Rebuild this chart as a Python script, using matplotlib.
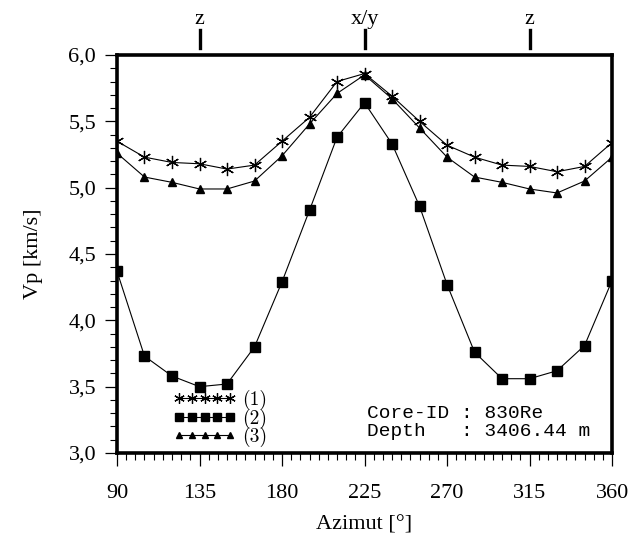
import numpy as np
import matplotlib
matplotlib.use("Agg")
import matplotlib.pyplot as plt
from matplotlib.ticker import MultipleLocator, FixedLocator, FixedFormatter

# Data
azimut = [90, 105, 120, 135, 150, 165, 180, 195, 210, 225,
          240, 255, 270, 285, 300, 315, 330, 345, 360]
vp_1 = [5.35, 5.23, 5.19, 5.18, 5.14, 5.17, 5.35, 5.53, 5.80, 5.86,
        5.69, 5.50, 5.32, 5.23, 5.17, 5.16, 5.12, 5.16, 5.34]
vp_2 = [4.37, 3.73, 3.58, 3.50, 3.52, 3.80, 4.29, 4.83, 5.38, 5.64,
        5.33, 4.86, 4.27, 3.76, 3.56, 3.56, 3.62, 3.81, 4.30]
vp_3 = [5.26, 5.08, 5.04, 4.99, 4.99, 5.05, 5.24, 5.48, 5.71, 5.85,
        5.67, 5.45, 5.23, 5.08, 5.04, 4.99, 4.96, 5.05, 5.23]
series_labels = ["(1)", "(2)", "(3)"]

x_ticks = [90, 135, 180, 225, 270, 315, 360]
y_ticks = [3.0, 3.5, 4.0, 4.5, 5.0, 5.5, 6.0]
y_ticklabels = ["3,0", "3,5", "4,0", "4,5", "5,0", "5,5", "6,0"]

axis_ticks = [135, 225, 315]
axis_labels = ["z", "x/y", "z"]

core_id = "830Re"
depth = "3406.44"

serif = "Liberation Serif"
mono = "Liberation Mono"

fig = plt.figure(figsize=(6.31, 5.38), dpi=100)
ax = fig.add_axes([0.1854, 0.158, 0.7846, 0.7398])

# Curves
ax.plot(azimut, vp_1, color="black", lw=0.8, marker=(6, 2, 0), ms=9.5,
        mew=0.9, label=series_labels[0])
ax.plot(azimut, vp_2, color="black", lw=0.8, marker="s", ms=6.5,
        label=series_labels[1])
ax.plot(azimut, vp_3, color="black", lw=0.8, marker="^", ms=6,
        label=series_labels[2])

ax.set_xlim(90, 360)
ax.set_ylim(3.0, 6.0)

# Axes frame and ticks
for s in ax.spines.values():
    s.set_linewidth(2.6)
ax.xaxis.set_major_locator(FixedLocator(x_ticks))
ax.xaxis.set_minor_locator(MultipleLocator(5))
ax.yaxis.set_major_locator(FixedLocator(y_ticks))
ax.yaxis.set_major_formatter(FixedFormatter(y_ticklabels))
ax.yaxis.set_minor_locator(MultipleLocator(0.1))
ax.tick_params(which="major", direction="out", length=9, width=0.9,
               labelsize=16, pad=13)
ax.tick_params(axis="y", which="major", pad=6)
ax.tick_params(which="minor", direction="out", length=5, width=0.8)
for lab in ax.get_xticklabels() + ax.get_yticklabels():
    lab.set_fontfamily(serif)

ax.set_xlabel("Azimut [°]", fontsize=16, family=serif, labelpad=9)
ax.set_ylabel("Vp [km/s]", fontsize=16, family=serif, labelpad=18)

# Direction marks above the frame
trans = ax.get_xaxis_transform()
for xv, lab in zip(axis_ticks, axis_labels):
    ax.plot([xv, xv], [1.018, 1.062], color="black", lw=2.4,
            transform=trans, clip_on=False)
    ax.text(xv, 1.09, lab, transform=trans, ha="center", va="center",
            fontsize=16, family=serif)

# Legend
ax.legend(loc="lower left", bbox_to_anchor=(0.11, 0.01), frameon=False,
          numpoints=5, handlelength=3.2, handletextpad=0.35,
          labelspacing=-0.08, borderpad=0.1, borderaxespad=0.0,
          markerscale=0.8, prop={"family": "cmr10", "size": 14})

# Core info
ax.text(0.505, 0.098, "Core-ID : " + core_id, transform=ax.transAxes,
        family=mono, fontsize=14, va="center", ha="left")
ax.text(0.505, 0.055, "Depth   : " + depth + " m", transform=ax.transAxes,
        family=mono, fontsize=14, va="center", ha="left")

fig.savefig("out.png", dpi=100)
